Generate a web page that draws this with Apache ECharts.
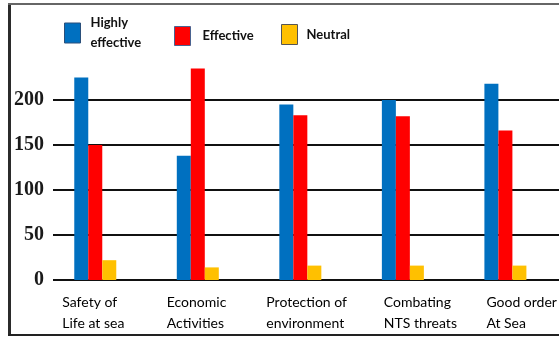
<!DOCTYPE html>
<html>
<head>
<meta charset="utf-8">
<script src="https://cdn.jsdelivr.net/npm/echarts@6/dist/echarts.min.js"></script>
<style>
  html, body { margin: 0; padding: 0; background: #fff; }
  #chart { width: 559px; height: 338px; }
</style>
</head>
<body>
<div id="chart"></div>
<script>
// ---- data ----
const categories = ['Safety of\nLife at sea', 'Economic\nActivities', 'Protection of\nenvironment', 'Combating\nNTS threats', 'Good order\nAt Sea'];
const seriesNames = ['Highly effective', 'Effective', 'Neutral'];
const highlyEffective = [225, 138, 195, 200, 218];
const effective = [150, 235, 183, 182, 166];
const neutral = [22, 14, 16, 16, 16];
const yTicks = [0, 50, 100, 150, 200];

// ---- style / layout (not data) ----
const colors = ['#0070C0', '#FF0000', '#FFC000'];
const labelBoxWidths = [66, 62, 68, 38, 38];
const textColor = '#111';

const rich = {};
labelBoxWidths.forEach((w, i) => {
  rich['a' + i] = { width: w, align: 'left', fontFamily: 'Lato', fontSize: 14, color: '#000', lineHeight: 21 };
});

const chart = echarts.init(document.getElementById('chart'), null, { renderer: 'canvas' });

const gridTop = 55, gridBottom = 58;
const yMin = 0, yMax = 250, yInterval = 50;

function legendText(pad) {
  return { fontFamily: 'Lato', fontWeight: 'bold', fontSize: 13, color: textColor, padding: [0, 0, 0, pad], lineHeight: 20 };
}

const legendBase = {
  orient: 'horizontal',
  padding: 0,
  itemWidth: 16,
  itemHeight: 19,
  icon: 'rect',
  selectedMode: false
};

chart.setOption({
  animation: false,
  backgroundColor: '#ffffff',
  color: colors,
  legend: [
    Object.assign({}, legendBase, { left: 64, top: 13, itemHeight: 20, data: [seriesNames[0]],
      formatter: () => 'Highly\neffective', textStyle: legendText(5),
      itemStyle: { borderColor: '#2a4f7a', borderWidth: 1 } }),
    Object.assign({}, legendBase, { left: 174, top: 26, data: [seriesNames[1]], textStyle: legendText(7),
      itemStyle: { borderColor: '#4a6390', borderWidth: 1 } }),
    Object.assign({}, legendBase, { left: 281, top: 24, itemHeight: 20, data: [seriesNames[2]], textStyle: legendText(4),
      itemStyle: { borderColor: '#555', borderWidth: 1 } })
  ],
  grid: [
    { left: 44, right: -7, top: gridTop, bottom: gridBottom, containLabel: false },
    { left: 53, right: 0, top: gridTop, bottom: gridBottom, containLabel: false }
  ],
  xAxis: [
    {
      type: 'category', gridIndex: 0, data: categories,
      axisLine: { show: false }, axisTick: { show: false },
      axisLabel: {
        margin: 12, interval: 0, align: 'center',
        formatter: (v, i) => v.split('\n').map(s => '{a' + i + '|' + s + '}').join('\n'),
        rich: rich
      },
      splitLine: { show: false }
    },
    { type: 'value', gridIndex: 1, show: false, min: 0, max: 1 }
  ],
  yAxis: [
    { type: 'value', gridIndex: 0, min: yMin, max: yMax, interval: yInterval, show: false, splitLine: { show: false } },
    {
      type: 'value', gridIndex: 1, min: yMin, max: yMax, interval: yInterval,
      axisLine: { show: false }, axisTick: { show: false },
      axisLabel: {
        margin: 9, showMaxLabel: false,
        fontFamily: 'Liberation Serif', fontWeight: 'bold', fontSize: 20, color: '#1a1a1a',
        formatter: v => (yTicks.indexOf(v) >= 0 ? String(v) : '')
      },
      splitLine: { show: true, showMaxLine: false, lineStyle: { color: '#111', width: 2 } }
    }
  ],
  series: [
    { name: seriesNames[0], type: 'bar', xAxisIndex: 0, yAxisIndex: 0, data: highlyEffective, barWidth: 14, barGap: '0%',
      itemStyle: { color: colors[0] } },
    { name: seriesNames[1], type: 'bar', xAxisIndex: 0, yAxisIndex: 0, data: effective, barWidth: 14, barGap: '0%',
      itemStyle: { color: colors[1] } },
    { name: seriesNames[2], type: 'bar', xAxisIndex: 0, yAxisIndex: 0, data: neutral, barWidth: 14, barGap: '0%',
      itemStyle: { color: colors[2] } }
  ],
  graphic: [
    { type: 'rect', shape: { x: 8, y: 3, width: 3, height: 333 }, style: { fill: '#2b2b2b' }, z: 100 },
    { type: 'rect', shape: { x: 8, y: 3, width: 551, height: 2 }, style: { fill: '#666' }, z: 100 },
    { type: 'rect', shape: { x: 8, y: 334, width: 551, height: 2 }, style: { fill: '#222' }, z: 100 }
  ]
});
</script>
</body>
</html>
